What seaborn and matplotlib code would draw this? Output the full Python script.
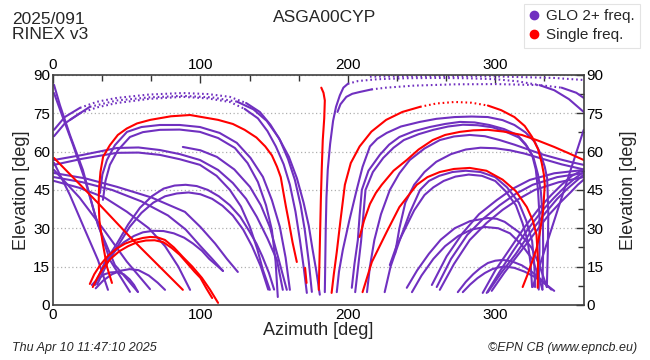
import pandas as pd
import seaborn as sns
import matplotlib.pyplot as plt
from matplotlib.lines import Line2D
from matplotlib.ticker import MultipleLocator

# ---- tracks: (azimuth list, elevation list) ----
# GLONASS dual-frequency tracks (purple)
G01 = ([0.7, 4.7, 11.5, 20.3, 28.5, 38.6, 52.2], [86.1, 78.2, 66.5, 52.8, 35.2, 17.6, 5.1])
G02 = ([0.7, 6.1, 13.6, 21.7, 30.5, 42.0, 57.6], [82.9, 74.3, 62.6, 48.9, 31.3, 15.6, 5.1])
G03 = ([0.7, 11.5, 21.7, 30.5, 37.3], [55.6, 43.0, 29.3, 17.6, 5.9])
G04 = ([0.7, 18.0, 35.0, 50.0, 65.8], [52.8, 42.0, 29.0, 17.0, 6.2])
B1 = ([0.7, 8, 18.3, 30, 43.4, 65, 88.1, 105, 120, 131, 140.3, 147.5, 153.9, 159.5, 164.1, 168, 170.8, 173.5, 175.6],
      [68.5, 73.5, 77.1, 79.5, 81.0, 82.3, 82.9, 82.5, 81.4, 79, 75.5, 70.5, 64.6, 57, 48.9, 39, 29.3, 17, 5.1])
B2 = ([0.7, 8, 18.3, 30, 43.4, 65, 88.1, 105, 120, 130, 139, 145.5, 151.2, 156.5, 160.7, 164.5, 167.5, 170, 172.2],
      [66, 71, 75, 77.3, 79, 80.6, 81.4, 80.8, 79.4, 76.7, 73, 68, 62, 55, 47, 36.5, 25.4, 15, 4.7])
B3 = ([11.5, 25, 43.4, 65, 88.1, 108, 125, 136, 145, 153, 160, 165.5, 170, 173.5, 176, 178.7, 181],
      [72.4, 77.5, 80.0, 81.2, 81.8, 81.2, 79.5, 76.5, 72, 65.5, 58, 49.5, 40, 31, 22, 13, 4])
G07 = ([31.9, 33.5, 36.6, 42, 50.2, 60, 72.5, 86, 99.7, 113, 124.7, 134, 142.4, 148.5, 153.9, 157.8, 160.7],
       [43.8, 51, 56.7, 62.5, 67.7, 69.6, 70.4, 70.4, 69.6, 67.3, 63.4, 57.5, 50.1, 41, 30.5, 18.5, 5.9])
G08 = ([33.9, 35.6, 38.6, 44, 52.2, 61, 72.5, 86, 99.7, 112, 123.4, 132, 139.0, 144.5, 148.5, 151, 152.5],
       [41.1, 48.5, 54.8, 60.5, 65.7, 67.6, 68.5, 68.6, 67.7, 65.3, 61.4, 55.5, 48.1, 39, 29.3, 17, 3.1])
G09 = ([88.1, 100, 111.2, 123, 133.6, 141, 147.1, 153, 158.6], [61.8, 60.5, 57.9, 53, 46.2, 39, 30.5, 18, 5.9])
G10 = ([0.7, 20.3, 43.4, 58, 72.5, 86, 99.7, 112, 122.0, 131, 138.3, 145.5, 151.9, 155.9],
       [56.7, 58.7, 61.4, 61.6, 60.6, 59, 56.7, 52.8, 47.7, 41.5, 34.4, 26, 17.6, 5.9])
G11 = ([0.7, 20, 43.4, 58, 72.5, 86, 99.7, 111, 120.0, 127.5, 133.6, 138.5, 142.4, 147.1],
       [54.8, 57.2, 59.5, 59.6, 58.7, 57, 54.8, 50.5, 45.0, 38.5, 30.5, 22, 13.7, 5.9])
G12 = ([0.7, 22, 43.4, 67, 89.5, 100, 110.0, 118, 125.4], [51.6, 49.5, 46.2, 42, 36.4, 30.5, 24.0, 18, 12.9])
G13 = ([0.7, 20, 40.0, 60, 78.0, 90, 100.0, 108, 115.3], [50.0, 48, 45.0, 40.5, 35.0, 29.5, 23.0, 18, 13.3])
G14 = ([0.7, 18, 35.0, 50, 65.0, 76, 85.0, 93.0], [48.5, 45.8, 42.0, 36.5, 30.0, 23, 15.0, 5.9])
G15 = ([28.5, 35, 43.4, 51, 59, 67, 75, 82.5, 90, 97.5, 105, 112.5, 120, 127, 133, 138, 142, 146.5, 150],
       [7.8, 16.5, 24, 31.5, 38, 42.5, 45.5, 46.7, 47, 46.5, 45, 42.5, 39, 34.5, 29, 24, 19, 12.5, 6])
G16 = ([30, 37, 45, 52, 60, 68, 76, 84, 92, 100, 108, 115, 122, 129, 135, 141, 146],
       [8, 16.5, 24, 30.5, 36, 40, 42.5, 43.6, 44, 43.3, 41.5, 38.8, 35, 29.5, 23, 15, 6])
G17 = ([30, 35, 42, 48, 55, 61, 68, 75, 82, 89, 95, 101, 106, 111, 115.3],
       [10, 16, 21, 24.5, 27, 28.4, 29, 28.9, 28, 26.3, 24, 21.2, 18, 15.5, 13.3])
A1 = ([26.4, 30, 35, 39, 43.4, 48, 52, 55, 57.6], [7.8, 10, 12, 12.7, 12.9, 12, 10, 7.8, 5.1])
A2 = ([29, 34, 40, 46, 52, 58, 65, 71, 76], [6.5, 9.5, 12, 13.4, 14, 13.6, 11.5, 8.7, 5.9])
PT1 = ([184.4, 185, 185.5, 186.4, 188, 190, 192, 194.6, 197, 200, 207, 220, 240, 260, 280, 300, 315, 330, 340, 350, 360],
       [5, 29, 42, 53, 63, 72, 77.5, 82, 85, 86.5, 87.6, 88.3, 88.7, 88.8, 88.7, 88.3, 87.5, 86, 84, 80.5, 75.5])
PT2 = ([193, 195, 199, 203, 208, 216, 226, 245, 272.5, 300, 330, 345, 355, 360],
       [75.5, 78.5, 81.4, 82.6, 83.3, 84.3, 85, 85.8, 86.3, 86.4, 86, 85, 83, 81])
PT3 = ([215.0, 260.0, 300.0, 340.0, 360.0], [89.3, 89.5, 89.4, 88.8, 88.0])
H1 = ([192.5, 194, 196.6, 201, 206.0, 210, 215.0, 220, 226.4, 236, 248.8, 260, 272.5, 284, 295.0, 305, 313.0,
       320.5, 326.8, 330.8, 333.6, 335.2, 335.5, 336.0, 335.6, 335.0],
      [5, 13, 21.5, 33, 45, 54, 62, 65, 67.3, 69.8, 71.6, 72.8, 73.5, 73.7, 73.5, 72.3, 70.4,
       67.5, 63.8, 59, 54, 49.5, 45, 35, 20, 7])
H2 = ([202.7, 204.5, 206.8, 208, 209.5, 214, 221.7, 228, 235, 245, 255.6, 266, 276, 286, 296, 306, 315,
       320.5, 325, 327.5, 329, 330, 330, 329.5],
      [6.7, 16, 25.4, 35, 45, 52.5, 58.7, 62.7, 65.7, 68, 69.6, 70.8, 71.6, 71.4, 70.4, 68.8, 66.5,
       63, 58.7, 53, 45, 35, 21.5, 6])
H2B = ([205, 207, 209, 210.5, 212, 217, 224, 231, 238, 248, 258, 268, 278, 288, 298, 307, 316,
        321.5, 326, 329, 331, 332.3, 332.5, 332],
       [5, 15, 25, 35, 45, 52, 57.5, 61.5, 64.5, 66.8, 68.5, 69.8, 70.5, 70.3, 69.5, 67.8, 65.5,
        62, 57.5, 51, 44, 33, 22, 6])
H3 = ([213, 215, 218, 222.5, 228.5, 235, 242, 252, 262.4, 272, 282.7, 293, 303, 313, 323.4, 333, 343.7, 352, 360],
      [5, 15, 25.4, 35.5, 45, 51.5, 56.7, 61.2, 64.5, 65.9, 66.5, 66, 64.5, 62.7, 60.6, 58.7, 57, 55.8, 54.8])
H4 = ([232, 235, 239, 245, 252, 260, 270, 280, 290, 300, 310, 320, 330, 345, 360],
      [20, 30, 40, 47, 52, 56, 59, 60.8, 61.5, 61.3, 60.5, 59.2, 57.5, 55, 53])
M1 = ([225, 229, 235, 242, 249, 255, 262, 271, 280, 290, 300, 308, 316, 321, 325, 326.5, 327],
      [5, 15, 25, 36, 45, 48.5, 50.5, 52, 52.5, 52, 50, 46, 40, 33, 25, 16, 7])
M2 = ([228.5, 233, 239, 245, 252, 258, 265, 273, 282, 291, 300, 307, 314, 318.5, 322, 324, 325],
      [15.6, 23, 30, 37, 43, 46, 48.5, 50.2, 51, 50.5, 48.5, 44.5, 39, 32, 25, 16, 7])
LA1 = ([240, 247, 255, 263, 272.5, 283, 295, 301, 306.4, 316, 324.7, 330, 335],
       [6.7, 13.5, 20, 25.5, 30, 32.8, 34, 33.7, 32.5, 28.5, 22.3, 15.5, 7])
LA2 = ([243.5, 250, 258, 266, 275, 284, 293, 302, 310, 318, 325, 329, 332],
       [5, 11.5, 18, 23, 27, 29.5, 30.5, 30, 28, 23.5, 18, 12, 6])
LA3 = ([274.6, 280, 285, 290, 295, 300, 305, 311, 318, 324, 330, 334, 338],
       [5, 9, 12, 14.5, 16.4, 17.3, 17.6, 17.1, 15.5, 13.3, 10.5, 8.3, 6])
LA4 = ([278, 283, 288, 293, 298, 302.5, 307, 313, 320, 326, 332, 336, 340],
       [5, 8, 10.5, 12.5, 14, 14.7, 15, 14.5, 13, 11.2, 9, 7.3, 5.5])
F1 = ([257.0, 267, 278.0, 289, 301.0, 312, 323.4, 340, 360.0], [7.8, 19, 28.2, 35.5, 41.0, 45.5, 48.9, 51.5, 52.8])
F2 = ([260.3, 270, 281.0, 292, 303.0, 314, 325.4, 342, 360.0], [7.0, 18, 27.4, 33.8, 39.0, 43.5, 47.0, 50, 51.6])
F3 = ([262.4, 272, 282.7, 294, 305.0, 316, 326.8, 343, 360.0], [5.9, 16, 25.4, 32, 37.2, 41.5, 45.0, 48, 50.0])
FN1 = ([291.5, 300, 310.0, 320, 330.0, 338, 345.0, 352, 360.0], [4.7, 13.5, 22.0, 30.5, 38.0, 43, 47.0, 50.5, 53.0])
FN2 = ([294.2, 303, 312.0, 322, 332.0, 340, 347.0, 354, 360.0], [4.7, 13, 21.0, 29.5, 37.0, 42, 46.0, 49.5, 52.0])
FN3 = ([295.0, 304, 314.0, 324, 334.0, 342, 349.0, 355, 360.0], [5.0, 12.5, 20.0, 28.5, 36.0, 41.5, 45.5, 48.5, 51.0])
FN4 = ([297.6, 306, 316.0, 326, 336.0, 344, 351.0, 356, 360.0], [5.5, 12.5, 20.0, 27.5, 35.0, 40, 44.0, 47, 49.0])
ST = ([325.4, 342.7, 360.0], [7.0, 37.8, 68.5])

# single-frequency tracks (red)
R1 = ([40, 36.6, 33.5, 31.5, 31.0, 31.2, 32.2, 34, 38.6, 44, 50, 57, 66, 80, 93, 112, 122, 130, 138, 144,
       148.5, 152, 154.5, 156, 158, 160, 162.5, 165.4],
      [8.6, 15, 25, 33, 40, 45, 52, 58, 62.5, 66.5, 69, 71, 72.4, 73.8, 74.3, 72.4, 70.8, 68.5, 65.5, 62,
       58.5, 54, 50, 45, 38.5, 32.5, 24.5, 16.8])
R2A = ([25, 28, 32, 37, 43, 49, 55.6, 61, 66, 71, 76, 82, 88, 94.5, 101, 106.5, 112],
       [8.2, 12, 15.6, 19, 22, 24, 25.4, 26.2, 26.6, 26.4, 25.4, 22.5, 18.8, 15, 10.6, 6, 0.8])
R2B = ([27, 30, 34, 39, 45, 51, 57, 63, 69, 75, 80.5, 86, 91.5, 96, 100, 104, 108],
       [7, 10.5, 14.5, 18, 21, 23, 24.5, 25.2, 25.3, 24.5, 22.3, 19.6, 16, 13, 10.6, 6.5, 2.7])
R3 = ([0.7, 30.5, 54.2, 88.1], [57.5, 39.9, 25.4, 5.9])
R4 = ([182.0, 183.5, 184.4, 184, 183.0, 182.3, 181.7, 181, 180.3], [85.0, 83, 80.0, 73, 64.5, 53, 41.0, 23, 5.9])
R4S = ([171.0, 172.0], [14.5, 8.6])
R5 = ([189, 190.5, 192.5, 195, 198, 202, 208, 216, 226, 237, 249, 260, 272.5, 284, 295, 304, 313, 320, 325,
       329, 331.5, 333, 333.6, 332.5, 330, 328, 325.4, 322, 318.6],
      [4.7, 12, 20.7, 33, 47, 55.5, 62, 67.8, 72.4, 75.5, 77.5, 78.8, 79.4, 79.1, 78, 76.2, 73.5, 70, 65.7,
       61, 55.6, 51, 47, 37, 27.4, 22, 17.6, 12, 7])
R6 = ([208, 211, 215, 219, 223, 231, 240, 248, 257.6, 266, 276, 285, 295, 306, 318, 329, 340, 350, 360],
      [26.6, 33, 39.5, 43.8, 47, 52.5, 56.7, 60.8, 64.5, 66.5, 67.7, 68.3, 68.5, 67.8, 66.5, 64.3, 61.8, 59.3, 56.7])
R7 = ([210, 216.3, 226.4, 235, 246.8, 254, 262.4, 272, 282.7, 294, 305, 314, 321.4, 325.5, 328, 329, 328.8],
      [5, 16.8, 28.6, 38.3, 47, 50, 52, 53.2, 53.6, 52.5, 49, 44.5, 38.3, 33, 27.4, 17, 6.7])

glo_tracks = {'G01': G01, 'G02': G02, 'G03': G03, 'G04': G04, 'B1': B1, 'B2': B2, 'B3': B3,
              'G07': G07, 'G08': G08, 'G09': G09, 'G10': G10, 'G11': G11, 'G12': G12,
              'G13': G13, 'G14': G14, 'G15': G15, 'G16': G16, 'G17': G17, 'A1': A1, 'A2': A2,
              'PT1': PT1, 'PT2': PT2, 'PT3': PT3, 'H1': H1, 'H2': H2, 'H2B': H2B, 'H3': H3,
              'H4': H4, 'M1': M1, 'M2': M2, 'LA1': LA1, 'LA2': LA2, 'LA3': LA3, 'LA4': LA4,
              'F1': F1, 'F2': F2, 'F3': F3, 'FN1': FN1, 'FN2': FN2, 'FN3': FN3, 'FN4': FN4, 'ST': ST}
single_tracks = {'R1': R1, 'R2A': R2A, 'R2B': R2B, 'R3': R3, 'R4': R4, 'R4S': R4S,
                 'R5': R5, 'R6': R6, 'R7': R7}

# point-index ranges drawn dotted (fast-moving, sparsely sampled parts near zenith)
DOTTED = {'B1': (2, 9), 'B2': (2, 9), 'B3': (1, 6), 'PT1': (9, 17), 'PT2': (5, 11),
          'PT3': (0, 4), 'R5': (10, 14)}

PURPLE = '#7030c0'
RED = '#ff0000'

rows = []


def add_part(name, kind, part, style, az, el):
    for a, e in zip(az, el):
        rows.append({'az': a, 'el': e, 'kind': kind, 'unit': f'{name}_{part}', 'style': style})


for kind, tracks in (('GLO', glo_tracks), ('Single', single_tracks)):
    for name, (az, el) in tracks.items():
        if name in DOTTED:
            i0, i1 = DOTTED[name]
            if i0 > 0:
                add_part(name, kind, 0, 'solid', az[:i0 + 1], el[:i0 + 1])
            add_part(name, kind, 1, 'dotted', az[i0:i1 + 1], el[i0:i1 + 1])
            if i1 < len(az) - 1:
                add_part(name, kind, 2, 'solid', az[i1:], el[i1:])
        else:
            add_part(name, kind, 0, 'solid', az, el)
df = pd.DataFrame(rows)

sns.set_style('white')
plt.rcParams['font.family'] = ['Liberation Sans', 'DejaVu Sans']

fig = plt.figure(figsize=(6.5, 3.6), dpi=100)
ax = fig.add_axes([0.0815, 0.153, 0.8165, 0.639])

sns.lineplot(data=df, x='az', y='el', hue='kind', style='style', units='unit', estimator=None,
             sort=False, palette={'GLO': PURPLE, 'Single': RED},
             dashes={'solid': '', 'dotted': (0.8, 1.4)}, linewidth=1.5,
             legend=False, ax=ax)

ax.set_xlim(0, 360)
ax.set_ylim(0, 90)
ax.xaxis.set_major_locator(MultipleLocator(100))
ax.xaxis.set_minor_locator(MultipleLocator(100 / 3))
ax.yaxis.set_major_locator(MultipleLocator(15))
ax.yaxis.set_minor_locator(MultipleLocator(7.5))
ax.tick_params(which='both', direction='in', top=True, right=True,
               labeltop=True, labelright=True, labelsize=11, pad=2, colors='#333333',
               labelcolor='black')
ax.tick_params(which='major', length=6, width=1)
ax.tick_params(which='minor', length=4, width=1)
ax.yaxis.grid(True, which='major', linestyle=(0, (1, 2)), color='#b0b0b0', linewidth=0.9)
for s in ax.spines.values():
    s.set_color('#404040')
    s.set_linewidth(1.2)

ax.set_xlabel('Azimuth [deg]', fontsize=13, labelpad=0)
ax.set_ylabel('Elevation [deg]', fontsize=13, labelpad=2)
rax = ax.secondary_yaxis('right')
rax.set_yticks([])
rax.spines['right'].set_visible(False)
rax.set_ylabel('Elevation [deg]', fontsize=13, labelpad=26)

fig.text(0.018, 0.968, '2025/091\nRINEX v3', fontsize=12.5, va='top', ha='left', linespacing=1.05)
fig.text(0.5, 0.952, 'ASGA00CYP', fontsize=12.5, va='center', ha='center')
fig.text(0.018, 0.033, 'Thu Apr 10 11:47:10 2025', fontsize=9, style='italic', va='center')
fig.text(0.98, 0.033, '\u00a9EPN CB (www.epncb.eu)', fontsize=9, style='italic',
         va='center', ha='right')

handles = [Line2D([], [], marker='o', color='none', markerfacecolor=PURPLE,
                  markeredgecolor=PURPLE, markersize=6, label='GLO 2+ freq.'),
           Line2D([], [], marker='o', color='none', markerfacecolor=RED,
                  markeredgecolor=RED, markersize=6, label='Single freq.')]
leg = fig.legend(handles=handles, loc='upper right', bbox_to_anchor=(0.985, 0.99),
                 fontsize=11, frameon=True, fancybox=False, handlelength=0.6,
                 handletextpad=0.5, borderpad=0.35, labelspacing=0.35, borderaxespad=0)
leg.get_frame().set_edgecolor('#dddddd')
leg.get_frame().set_linewidth(0.8)

fig.savefig('out.png', dpi=100)
